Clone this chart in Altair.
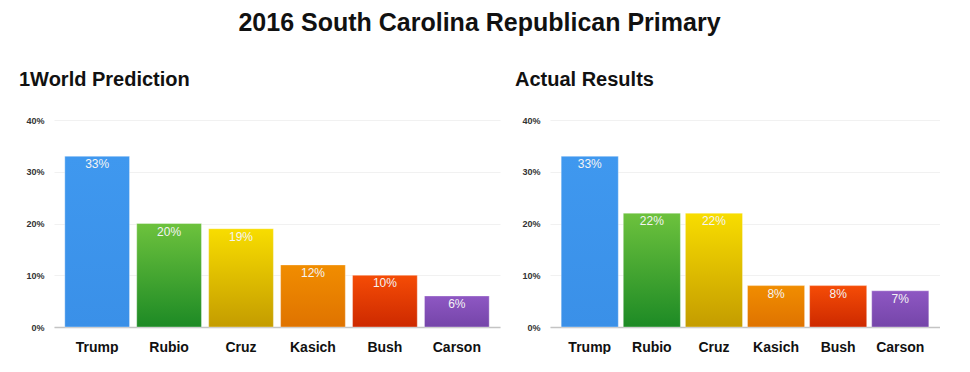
import altair as alt
import pandas as pd

candidates = ["Trump", "Rubio", "Cruz", "Kasich", "Bush", "Carson"]
prediction = [33, 20, 19, 12, 10, 6]
actual = [33, 22, 22, 8, 8, 7]
y_ticks = [0, 10, 20, 30, 40]

top_colors = ["#3f98ef", "#6dc23d", "#f8dd00", "#f18d00", "#f54c06", "#8e57c3"]
bottom_colors = ["#3a90e8", "#1d8a25", "#c49c00", "#df7300", "#cd2900", "#7545a9"]

FONT = "Liberation Sans"


def panel(values, title, width, p_inner, p_outer):
    df = pd.DataFrame({
        "candidate": candidates,
        "value": values,
        "label": [f"{v}%" for v in values],
    })
    x = alt.X(
        "candidate:N",
        sort=candidates,
        scale=alt.Scale(domain=candidates, paddingInner=p_inner, paddingOuter=p_outer),
        axis=alt.Axis(
            title=None, labelAngle=0, ticks=False, labelFont=FONT, labelFontSize=14,
            labelFontWeight="bold", labelColor="#111", labelPadding=13,
            domainColor="#c4c4c4", domainWidth=1.5, grid=False,
        ),
    )
    y = alt.Y(
        "value:Q",
        scale=alt.Scale(domain=[0, 40], nice=False),
        axis=alt.Axis(
            title=None, values=y_ticks, labelExpr="datum.value + '%'", ticks=False,
            domain=False, labelFont=FONT, labelFontSize=9, labelFontWeight="bold",
            labelColor="#333", labelPadding=10, gridColor="#f1f1f1", gridWidth=1,
        ),
    )
    layers = []
    for c, t, b in zip(candidates, top_colors, bottom_colors):
        grad = alt.Gradient(
            gradient="linear",
            stops=[alt.GradientStop(color=t, offset=0), alt.GradientStop(color=b, offset=1)],
            x1=0, x2=0, y1=0, y2=1,
        )
        layers.append(
            alt.Chart(df)
            .transform_filter(alt.datum.candidate == c)
            .mark_bar(color=grad, stroke="#ffffff", strokeOpacity=0.35, strokeWidth=1)
            .encode(x=x, y=y)
        )
    text = alt.Chart(df).mark_text(
        baseline="top", dy=3, color="#f4f4f4", font=FONT, fontSize=12
    ).encode(x=x, y=y, text="label:N")
    layers.append(text)
    return alt.layer(*layers).properties(
        width=width, height=207,
        title=alt.TitleParams(
            title, anchor="start", font=FONT, fontSize=20, fontWeight="bold",
            color="#111", dx=-7, offset=26,
        ),
    )


left = panel(prediction, "1World Prediction", 446, 0.1, 0.15)
right = panel(actual, "Actual Results", 390, 0.08, 0.18)

chart = (
    alt.hconcat(left, right, spacing=14)
    .properties(
        title=alt.TitleParams(
            "2016 South Carolina Republican Primary", anchor="middle", font=FONT,
            fontSize=25, fontWeight="bold", color="#111", offset=34,
        ),
        padding={"left": 10, "top": 3, "right": 0, "bottom": 0},
        background="white",
    )
    .configure_view(strokeWidth=0)
)

chart.save("out.html", embed_options={"renderer": "svg", "actions": False})
